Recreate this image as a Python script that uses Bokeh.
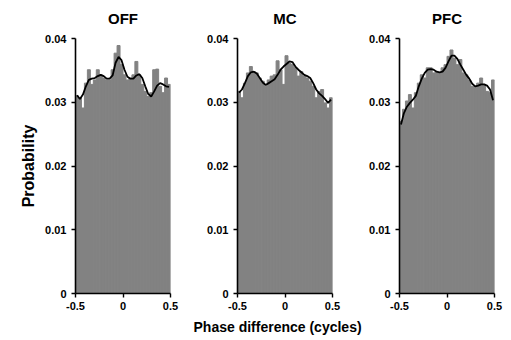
import numpy as np
from bokeh.plotting import figure
from bokeh.layouts import row
from bokeh.models import FixedTicker, CustomJSTickFormatter, Range1d, Title
from bokeh.embed import file_html
from bokeh.resources import INLINE

panel_titles = ["OFF", "MC", "PFC"]
n_bins = 32
x_ticks = [-0.5, 0, 0.5]
y_ticks = [0, 0.01, 0.02, 0.03, 0.04]

off_hist = [0.0310, 0.0307, 0.0291, 0.0330, 0.0351, 0.0328, 0.0335, 0.0351,
            0.0343, 0.0338, 0.0335, 0.0335, 0.0351, 0.0377, 0.0389, 0.0359,
            0.0343, 0.0335, 0.0338, 0.0343, 0.0364, 0.0343, 0.0328, 0.0317,
            0.0309, 0.0315, 0.0351, 0.0352, 0.0325, 0.0315, 0.0338, 0.0328]
off_smooth = [0.0311, 0.0305, 0.0312, 0.0325, 0.0335, 0.0337, 0.0338, 0.0341,
              0.0343, 0.0341, 0.0337, 0.0337, 0.0342, 0.0362, 0.0371, 0.0366,
              0.0351, 0.0340, 0.0337, 0.0337, 0.0342, 0.0344, 0.0338, 0.0325,
              0.0313, 0.0309, 0.0317, 0.0326, 0.0330, 0.0328, 0.0325, 0.0324]

mc_hist = [0.0317, 0.0307, 0.0330, 0.0346, 0.0356, 0.0348, 0.0346, 0.0338,
           0.0333, 0.0325, 0.0335, 0.0341, 0.0343, 0.0365, 0.0351, 0.0328,
           0.0373, 0.0361, 0.0359, 0.0354, 0.0341, 0.0348, 0.0341, 0.0338,
           0.0333, 0.0325, 0.0307, 0.0317, 0.0320, 0.0299, 0.0291, 0.0307]
mc_smooth = [0.0315, 0.0320, 0.0330, 0.0341, 0.0347, 0.0348, 0.0345, 0.0338,
             0.0331, 0.0327, 0.0330, 0.0333, 0.0336, 0.0343, 0.0351, 0.0356,
             0.0360, 0.0364, 0.0363, 0.0356, 0.0351, 0.0347, 0.0343, 0.0341,
             0.0338, 0.0330, 0.0320, 0.0314, 0.0310, 0.0305, 0.0299, 0.0304]

pfc_hist = [0.0270, 0.0289, 0.0302, 0.0312, 0.0291, 0.0315, 0.0330, 0.0343,
            0.0338, 0.0354, 0.0354, 0.0346, 0.0348, 0.0346, 0.0354, 0.0359,
            0.0372, 0.0382, 0.0369, 0.0359, 0.0367, 0.0346, 0.0343, 0.0335,
            0.0325, 0.0325, 0.0330, 0.0338, 0.0328, 0.0317, 0.0315, 0.0335]
pfc_smooth = [0.0265, 0.0283, 0.0293, 0.0299, 0.0304, 0.0310, 0.0325, 0.0337,
              0.0346, 0.0351, 0.0352, 0.0351, 0.0348, 0.0347, 0.0348, 0.0354,
              0.0364, 0.0373, 0.0373, 0.0368, 0.0359, 0.0351, 0.0343, 0.0337,
              0.0329, 0.0325, 0.0326, 0.0328, 0.0328, 0.0326, 0.0320, 0.0303]

hists = [off_hist, mc_hist, pfc_hist]
smooths = [off_smooth, mc_smooth, pfc_smooth]

centers = -0.5 + (np.arange(n_bins) + 0.5) / n_bins

FONT = "Liberation Sans"
BAR = "#828282"

y_fmt = CustomJSTickFormatter(code="return tick == 0 ? '0' : tick.toFixed(2);")
x_fmt = CustomJSTickFormatter(code="return Math.abs(tick) < 1e-9 ? '0' : tick.toFixed(1);")

layout_specs = [
    dict(width=190, bl=75, br=20),
    dict(width=174, bl=47, br=32),
    dict(width=139, bl=35, br=9),
]

figs = []
for i, (title, hist, smooth, spec) in enumerate(zip(panel_titles, hists, smooths, layout_specs)):
    p = figure(width=spec["width"], height=340,
               x_range=Range1d(-0.5, 0.5), y_range=Range1d(0, 0.04),
               output_backend="svg", toolbar_location=None,
               min_border_left=spec["bl"], min_border_right=spec["br"],
               min_border_top=37, min_border_bottom=47)
    p.title.text = title
    p.title.align = "center"
    p.title.vertical_align = "top"
    p.title.text_font = FONT
    p.title.text_font_size = "15px"
    p.title.text_font_style = "bold"
    p.title.text_color = "black"
    p.title.standoff = 19

    p.vbar(x=centers, top=hist, width=1.0 / n_bins, fill_color=BAR,
           line_color=BAR, line_width=1)
    p.line(centers, smooth, line_color="black", line_width=1.8)

    p.xgrid.visible = False
    p.ygrid.visible = False
    p.outline_line_color = None

    for ax in (p.xaxis[0], p.yaxis[0]):
        ax.axis_line_color = "black"
        ax.axis_line_width = 1.6
        ax.major_tick_line_color = "black"
        ax.major_tick_line_width = 1.4
        ax.major_tick_out = 4
        ax.major_tick_in = 0
        ax.minor_tick_line_color = None
        ax.major_label_text_font = FONT
        ax.major_label_text_font_size = "11px"
        ax.major_label_text_font_style = "bold"
        ax.major_label_text_color = "black"
        ax.axis_label_text_font = FONT
        ax.axis_label_text_font_style = "bold"
        ax.axis_label_text_color = "black"

    p.xaxis[0].ticker = FixedTicker(ticks=x_ticks)
    p.yaxis[0].ticker = FixedTicker(ticks=y_ticks)
    p.xaxis[0].formatter = x_fmt
    p.yaxis[0].formatter = y_fmt
    p.yaxis[0].major_label_standoff = 5
    p.xaxis[0].major_label_standoff = 4

    if i == 0:
        p.yaxis[0].axis_label = "Probability"
        p.yaxis[0].axis_label_text_font_size = "16px"
        p.yaxis[0].axis_label_standoff = 5
    if i == 1:
        xt = Title(text="Phase difference (cycles)", align="left", offset=-44,
                   text_font=FONT, text_font_size="14px",
                   text_font_style="bold", text_color="black", standoff=8)
        p.add_layout(xt, "below")
    figs.append(p)

layout = row(*figs, spacing=0)
open("out.html", "w").write(file_html(layout, INLINE))
